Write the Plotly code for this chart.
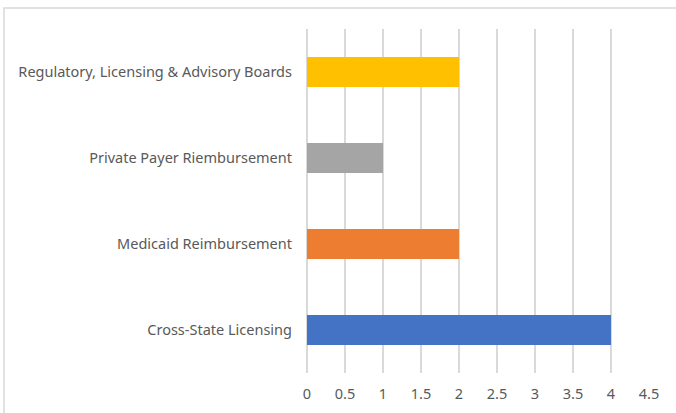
import plotly.graph_objects as go

categories = ["Cross-State Licensing", "Medicaid Reimbursement",
              "Private Payer Riembursement", "Regulatory, Licensing & Advisory Boards"]
values = [4, 2, 1, 2]
colors = ["#4472C4", "#ED7D31", "#A5A5A5", "#FFC000"]
x_ticks = [0, 0.5, 1, 1.5, 2, 2.5, 3, 3.5, 4, 4.5]

W, H = 676, 413
L, R, T, B = 307, 27, 29, 40
pw, ph = W - L - R, H - T - B

fig = go.Figure(go.Bar(
    x=values, y=categories, orientation="h",
    marker=dict(color=colors, line=dict(width=0)),
    width=0.35,
))

font = dict(family="Noto Sans, sans-serif", size=14.5, color="#595959")
fig.update_layout(
    width=W, height=H,
    margin=dict(l=L, r=R, t=T, b=B, autoexpand=False),
    paper_bgcolor="white", plot_bgcolor="white",
    showlegend=False,
    font=font,
    xaxis=dict(range=[0, 4.5], tickvals=x_ticks, ticktext=[str(v) for v in x_ticks],
               showgrid=True, gridcolor="#D9D9D9", gridwidth=1.5,
               zeroline=True, zerolinecolor="#D9D9D9", zerolinewidth=1.5,
               showline=False, ticks="", ticklabelstandoff=10,
               tickfont=font, fixedrange=True),
    yaxis=dict(showgrid=False, zeroline=False, showline=False,
               ticks="", ticklabelstandoff=14, tickfont=font,
               categoryorder="array", categoryarray=categories, fixedrange=True),
    shapes=[dict(type="rect", xref="paper", yref="paper",
                 x0=(4 - L) / pw, x1=(W + 20 - L) / pw,
                 y0=-1, y1=(H - 8 - B) / ph,
                 line=dict(color="#D9D9D9", width=1.5), layer="below")],
)
fig.write_html("out.html", config={"displayModeBar": False},
               post_script="document.body.style.margin='0';document.body.style.overflow='hidden';")
